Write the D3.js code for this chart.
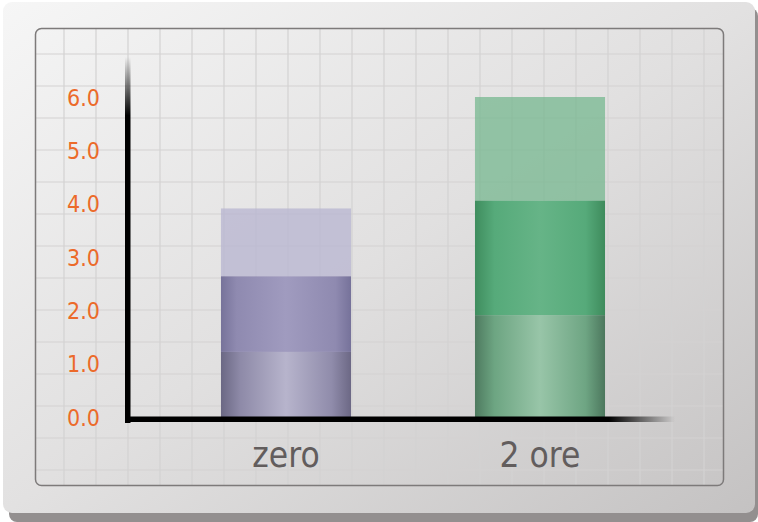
<!DOCTYPE html>
<html><head><meta charset="utf-8">
<script src="https://cdn.jsdelivr.net/npm/d3@7"></script>
<style>
html,body{margin:0;padding:0;background:#fff;}
svg{display:block;}
text{font-family:'DejaVu Sans Condensed','DejaVu Sans',sans-serif;font-stretch:condensed;}
</style></head>
<body>
<svg id="chart" width="758" height="522"></svg>
<script>
// ---- data ----
const categories = ["zero", "2 ore"];
const seriesBottom = [1.22, 1.91];
const seriesMiddle = [1.42, 2.15];
const seriesTop = [1.27, 1.94];
const tickValues = [0, 1, 2, 3, 4, 5, 6];

const W = 758, H = 522;
const svg = d3.select("#chart");
const defs = svg.append("defs");

function lin(id, x1, y1, x2, y2, stops) {
  const g = defs.append("linearGradient").attr("id", id)
    .attr("x1", x1).attr("y1", y1).attr("x2", x2).attr("y2", y2);
  stops.forEach(s => g.append("stop").attr("offset", s[0]).attr("stop-color", s[1]).attr("stop-opacity", s[2] == null ? 1 : s[2]));
}
lin("cardGrad", 0, 0, 1, 1, [[0, "#f6f6f6"], [0.5, "#e2e1e1"], [1, "#c4c2c2"]]);
lin("panelGrad", 0, 0, 1, 1, [[0, "#f3f3f3"], [0.5, "#e1e0e0"], [1, "#c8c6c6"]]);
lin("yAxisGrad", 0, 0, 0, 1, [[0, "#000", 0], [0.16, "#000", 1], [1, "#000", 1]]);
lin("xAxisGrad", 0, 0, 1, 0, [[0, "#000", 1], [0.88, "#000", 1], [1, "#000", 0]]);
// purple bar
lin("p1", 0, 0, 1, 0, [[0, "#6b6884"], [0.15, "#8e8aa8"], [0.5, "#b7b4cc"], [0.85, "#908cab"], [1, "#6c6885"]]);
lin("p2", 0, 0, 1, 0, [[0, "#77739a"], [0.12, "#8f8ab0"], [0.5, "#a09bbf"], [0.88, "#8f8ab0"], [1, "#76729a"]]);
// green bar
lin("g1", 0, 0, 1, 0, [[0, "#4e7a5f"], [0.15, "#6da582"], [0.5, "#98c5a8"], [0.85, "#6ea583"], [1, "#4c775d"]]);
lin("g2", 0, 0, 1, 0, [[0, "#3f8d5e"], [0.15, "#56aa7a"], [0.5, "#66b487"], [0.85, "#56aa7a"], [1, "#3e8b5c"]]);

// card shadow + card
svg.append("rect").attr("x", 9).attr("y", 8).attr("width", 749).attr("height", 514)
  .attr("rx", 8).attr("fill", "#938f8f");
svg.append("rect").attr("x", 3).attr("y", 2).attr("width", 752).attr("height", 511)
  .attr("rx", 9).attr("fill", "url(#cardGrad)");

// panel
const panel = {x: 35.5, y: 28.5, w: 688, h: 457};
defs.append("clipPath").attr("id", "panelClip").append("rect")
  .attr("x", panel.x).attr("y", panel.y).attr("width", panel.w).attr("height", panel.h).attr("rx", 6);
svg.append("rect").attr("x", panel.x).attr("y", panel.y).attr("width", panel.w).attr("height", panel.h)
  .attr("rx", 6).attr("fill", "url(#panelGrad)");
const grid = svg.append("g").attr("clip-path", "url(#panelClip)");
d3.range(2, 23).forEach(k => grid.append("line").attr("x1", 32 * k).attr("x2", 32 * k)
  .attr("y1", panel.y).attr("y2", panel.y + panel.h).attr("stroke", "#d3d2d2").attr("stroke-width", 1.2));
d3.range(1, 15).forEach(k => grid.append("line").attr("y1", 22 + 32 * k).attr("y2", 22 + 32 * k)
  .attr("x1", panel.x).attr("x2", panel.x + panel.w).attr("stroke", "#d3d2d2").attr("stroke-width", 1.2));

// scales
const y = d3.scaleLinear().domain([0, 6]).range([417, 97]);
const x = d3.scaleBand().domain(categories).range([159, 667]).paddingInner(0.488).paddingOuter(0.244);

// bars
const fills = [
  {bottom: "url(#p1)", middle: "url(#p2)", top: "#b9b6d1", topOp: 0.78},
  {bottom: "url(#g1)", middle: "url(#g2)", top: "#71b68c", topOp: 0.72}
];
const bars = svg.append("g");
categories.forEach((c, i) => {
  const b0 = 0, b1 = seriesBottom[i], b2 = b1 + seriesMiddle[i], b3 = b2 + seriesTop[i];
  const segs = [
    [b0, b1, fills[i].bottom, 1],
    [b1, b2, fills[i].middle, 1],
    [b2, b3, fills[i].top, fills[i].topOp]
  ];
  segs.forEach(s => {
    bars.append("rect").attr("x", x(c)).attr("width", x.bandwidth())
      .attr("y", y(s[1])).attr("height", y(s[0]) - y(s[1]))
      .attr("fill", s[2]).attr("fill-opacity", s[3]);
  });
});

// axes lines
svg.append("rect").attr("x", 125).attr("y", 57).attr("width", 5.5).attr("height", 366)
  .attr("fill", "url(#yAxisGrad)");
svg.append("rect").attr("x", 125).attr("y", 416.5).attr("width", 550).attr("height", 5.5)
  .attr("fill", "url(#xAxisGrad)");

// y tick labels
const yAxis = d3.axisLeft(y).tickValues(tickValues).tickFormat(d3.format(".1f")).tickSize(0).tickPadding(0);
const yg = svg.append("g").attr("transform", "translate(100,0)").call(yAxis);
yg.select(".domain").remove();
yg.selectAll("text").attr("fill", "#ec6a2a").attr("font-size", 23)
  .attr("font-family", "'DejaVu Sans Condensed','DejaVu Sans',sans-serif")
  .attr("dy", "0.36em");

// x labels
const xAxis = d3.axisBottom(x).tickSize(0).tickPadding(0);
const xg = svg.append("g").attr("transform", "translate(0,467)").call(xAxis);
xg.select(".domain").remove();
xg.selectAll("text").attr("fill", "#625d5d").attr("font-size", 35)
  .attr("font-family", "'DejaVu Sans Condensed','DejaVu Sans',sans-serif")
  .attr("dy", 0).attr("y", 0);

// panel border
svg.append("rect").attr("x", panel.x).attr("y", panel.y).attr("width", panel.w).attr("height", panel.h)
  .attr("rx", 6).attr("fill", "none").attr("stroke", "#7d7a7a").attr("stroke-width", 1.5);
</script>
</body></html>
